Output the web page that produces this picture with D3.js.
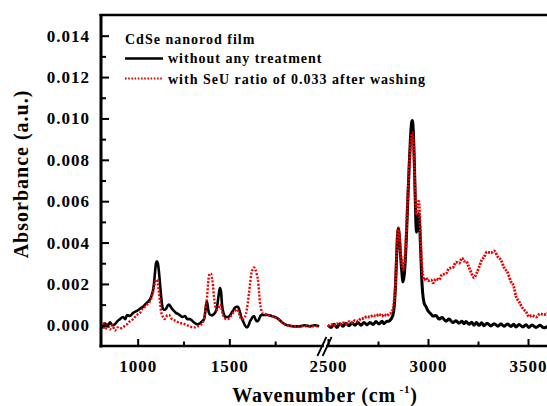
<!DOCTYPE html>
<html>
<head>
<meta charset="utf-8">
<script src="https://cdn.jsdelivr.net/npm/d3@7/dist/d3.min.js"></script>
<style>
  html, body { margin: 0; padding: 0; background: #fff; }
  svg { display: block; }
  text { font-family: "Liberation Serif", "Times New Roman", serif; font-weight: bold; fill: #000; }
</style>
</head>
<body>
<svg id="chart" width="547" height="406"></svg>
<script>
// FTIR spectra of a CdSe nanorod film, plotted on a broken wavenumber axis

// Low-wavenumber segment (800–2000 cm-1)
const waveLow = [800, 812, 822, 835, 849, 862, 876, 890, 904, 920, 932, 942, 958, 975, 985, 996,
  1013, 1029, 1040, 1051, 1067, 1078, 1084, 1090, 1095, 1100, 1105, 1110, 1116, 1122, 1127, 1133,
  1138, 1146, 1155, 1163, 1171, 1180, 1187, 1198, 1209, 1220, 1231, 1245, 1258, 1271, 1285, 1300,
  1313, 1326, 1340, 1352, 1362, 1368, 1373, 1378, 1384, 1389, 1395, 1400, 1405, 1411, 1416, 1422,
  1427, 1433, 1438, 1444, 1449, 1455, 1460, 1465, 1472, 1480, 1493, 1505, 1512, 1520, 1530, 1542,
  1547, 1556, 1565, 1575, 1585, 1596, 1605, 1613, 1620, 1627, 1635, 1642, 1649, 1656, 1662, 1667,
  1673, 1678, 1684, 1695, 1711, 1730, 1749, 1768, 1787, 1803, 1820, 1850, 1885, 1910, 1940, 1965, 1990];

const untreatedLow = [0.00005, -0.0001, 0.0001, -0.00005, 0.00015, 0.0, 0.00005, 0.0002, 0.0003, 0.0004, 0.0003, 0.0005, 0.00045, 0.0006, 0.00065, 0.0007,
  0.0008, 0.0009, 0.001, 0.0011, 0.00125, 0.0015, 0.0017, 0.0021, 0.0026, 0.003, 0.0031, 0.003, 0.0026, 0.002, 0.0015, 0.001,
  0.0008, 0.00075, 0.0008, 0.00095, 0.001, 0.0009, 0.0008, 0.0007, 0.0006, 0.00055, 0.00048, 0.0004, 0.00045, 0.0003, 0.0003, 0.0002,
  0.0001, 0.00005, 0.0001, 0.0002, 0.0003, 0.0006, 0.001, 0.00115, 0.0008, 0.0006, 0.0005, 0.0005, 0.00048, 0.0005, 0.00055, 0.0006,
  0.0007, 0.0009, 0.0012, 0.0016, 0.0018, 0.0016, 0.001, 0.0007, 0.0005, 0.0004, 0.0004, 0.0005, 0.0006, 0.0007, 0.00085, 0.0009,
  0.0009, 0.0007, 0.0004, 0.0002, 0.0, -0.0001, 0.0, 0.0002, 0.0003, 0.0004, 0.00045, 0.0003, 0.0002, 0.0002, 0.0003, 0.0004,
  0.0005, 0.0005, 0.0005, 0.0005, 0.0005, 0.00045, 0.0004, 0.0003, 0.00015, 0.00005, 0.0, -0.00005, -0.00005, 0.0, -0.00005, 0.0, -0.00005];

const washedLow = [-0.00005, 0.0001, -0.0002, 0.00005, -0.0002, 0.0, -0.00025, -0.0001, -0.00015, -0.0001, 0.0, 0.00005, 0.0002, 0.0003, 0.0004, 0.0005,
  0.0006, 0.00085, 0.0009, 0.001, 0.00115, 0.0014, 0.0016, 0.0019, 0.0021, 0.0022, 0.0022, 0.002, 0.0016, 0.0011, 0.0007, 0.0005,
  0.0004, 0.0003, 0.0004, 0.0005, 0.0005, 0.0004, 0.0003, 0.00025, 0.0002, 0.00015, 0.0001, 0.0001, 0.00005, 0.0, -0.00005, -0.0001,
  -0.0001, -0.00005, 0.0, 0.0001, 0.0003, 0.0006, 0.001, 0.0013, 0.002, 0.0024, 0.0025, 0.0025, 0.0023, 0.0019, 0.0014, 0.001,
  0.0008, 0.00075, 0.0008, 0.0009, 0.001, 0.0009, 0.0007, 0.0005, 0.0004, 0.0003, 0.0003, 0.0004, 0.0005, 0.0006, 0.0007, 0.00077,
  0.0007, 0.0005, 0.0003, 0.0003, 0.0004, 0.0008, 0.0014, 0.002, 0.0025, 0.0027, 0.0028, 0.0027, 0.0025, 0.0022, 0.0016, 0.0011,
  0.0008, 0.0006, 0.0006, 0.00055, 0.0005, 0.00045, 0.0004, 0.0003, 0.00015, 0.00005, 0.0, -0.00005, -0.00005, -0.00005, -0.00005, -0.00005, -0.00005];

// High-wavenumber segment (2500–3600 cm-1)
const waveHigh = [2500, 2515, 2530, 2545, 2560, 2575, 2590, 2605, 2620, 2635, 2650, 2665, 2680, 2695, 2710, 2725,
  2740, 2755, 2770, 2780, 2795, 2805, 2815, 2825, 2832, 2838, 2843, 2848, 2852, 2856, 2862, 2868,
  2875, 2882, 2890, 2897, 2905, 2912, 2918, 2922, 2927, 2932, 2937, 2942, 2948, 2953, 2958, 2963,
  2968, 2973, 2980, 2990, 3000, 3015, 3025, 3040, 3055, 3070, 3090, 3105, 3125, 3140, 3155, 3170,
  3180, 3190, 3205, 3218, 3230, 3242, 3255, 3268, 3280, 3295, 3315, 3330, 3350, 3365, 3380, 3398,
  3415, 3428, 3440, 3455, 3475, 3490, 3505, 3520, 3540, 3560, 3580, 3600];

const untreatedHigh = [0.0, -0.0001, 0.00005, -0.0001, 0.00008, -0.00005, 0.0001, -0.00002, 0.00012, 0.0, 0.00013, 0.0, 0.00014, 0.00002, 0.00014, 0.00004,
  0.00018, 0.00006, 0.0002, 0.00008, 0.0002, 0.0002, 0.0003, 0.0005, 0.001, 0.002, 0.0033, 0.0044, 0.0047, 0.0044, 0.0035, 0.0027,
  0.0021, 0.0025, 0.0038, 0.0055, 0.0075, 0.009, 0.0098, 0.0099, 0.0093, 0.0078, 0.0058, 0.0045, 0.0047, 0.0054, 0.0049, 0.0037,
  0.0024, 0.0016, 0.0011, 0.0009, 0.0007, 0.00055, 0.00045, 0.00048, 0.0003, 0.00038, 0.0002, 0.0003, 0.00013, 0.00022, 0.0001, 0.0002,
  0.00008, 0.00018, 0.00005, 0.00015, 0.0, 0.00014, 0.0, 0.00012, -0.00002, 0.0001, -0.00003, 0.00008, -0.00004, 0.00007, -0.00005, 0.00006,
  -0.00006, 0.00005, -0.00008, 0.00004, -0.00008, 0.00003, -0.0001, 0.00002, -0.0001, 0.0, -0.00012, -0.00004];

const washedHigh = [-0.00005, 0.00003, 0.0, 0.00008, 0.00003, 0.00012, 0.00008, 0.00018, 0.00012, 0.00024, 0.0002, 0.00032, 0.00034, 0.00042, 0.0004, 0.00048,
  0.00044, 0.00054, 0.00044, 0.00052, 0.00046, 0.00055, 0.0006, 0.0008, 0.0013, 0.0022, 0.0035, 0.0045, 0.0047, 0.0044, 0.0036, 0.0031,
  0.0027, 0.003, 0.0042, 0.0058, 0.0074, 0.0086, 0.0092, 0.0093, 0.0088, 0.0075, 0.0062, 0.0054, 0.0058, 0.006, 0.0055, 0.0042,
  0.0031, 0.0025, 0.0022, 0.0023, 0.00215, 0.0022, 0.00205, 0.00225, 0.0022, 0.00245, 0.0025, 0.00275, 0.0028, 0.00305, 0.003, 0.00325,
  0.0031, 0.0031, 0.0028, 0.0025, 0.0023, 0.0025, 0.0028, 0.00315, 0.0033, 0.00355, 0.0035, 0.0036, 0.0033, 0.00315, 0.0028, 0.00255,
  0.0021, 0.0019, 0.0014, 0.00115, 0.0008, 0.00065, 0.00042, 0.00048, 0.0004, 0.00055, 0.00052, 0.0006];

// Axis ticks
const yMajorTicks = [0.000, 0.002, 0.004, 0.006, 0.008, 0.010, 0.012, 0.014];
const yMinorTicks = [0.001, 0.003, 0.005, 0.007, 0.009, 0.011, 0.013];
const xLowMajor = [1000, 1500];
const xLowMinor = [1250, 1750];
const xHighMajor = [2500, 3000, 3500];
const xHighMinor = [2750, 3250];

// Legend text
const legendTitle = "CdSe nanorod film";
const seriesNames = ["without any treatment", "with SeU ratio of 0.033 after washing"];

const svg = d3.select("#chart");

const xLow = d3.scaleLinear().domain([800, 2000]).range([101, 321]);
const xHigh = d3.scaleLinear().domain([2500, 3600]).range([328, 548]);
const y = d3.scaleLinear().domain([-0.001, 0.015]).range([346, 15]);

const RED = "#ee0000";

svg.append("clipPath").attr("id", "plotClip")
  .append("rect").attr("x", 101).attr("y", 15).attr("width", 446).attr("height", 331);

const plot = svg.append("g").attr("clip-path", "url(#plotClip)");

function drawSeries(xs, wave, vals, color, width, dash) {
  const line = d3.line()
    .x((d, i) => xs(wave[i]))
    .y(d => y(d))
    .curve(d3.curveMonotoneX);
  const p = plot.append("path")
    .attr("d", line(vals))
    .attr("fill", "none")
    .attr("stroke", color)
    .attr("stroke-width", width)
    .attr("stroke-linejoin", "round");
  if (dash) p.attr("stroke-dasharray", dash);
}

drawSeries(xLow, waveLow, untreatedLow, "#000", 2.6, null);
drawSeries(xHigh, waveHigh, untreatedHigh, "#000", 3, null);
drawSeries(xLow, waveLow, washedLow, RED, 2.4, "2,1.6");
drawSeries(xHigh, waveHigh, washedHigh, RED, 2.8, "2,1.2");

// Axes
const yAxis = d3.axisLeft(y).tickValues(yMajorTicks).tickSize(-8).tickPadding(11)
  .tickFormat(d3.format(".3f"));
const yMinor = d3.axisLeft(y).tickValues(yMinorTicks).tickSize(-5).tickFormat("");

svg.append("g").attr("transform", "translate(101,0)").call(yAxis);
svg.append("g").attr("transform", "translate(101,0)").call(yMinor);

function bottomAxis(scale, major, minor) {
  svg.append("g").attr("transform", "translate(0,346)")
    .call(d3.axisBottom(scale).tickValues(major).tickSize(-7).tickPadding(14).tickFormat(d3.format("d")));
  svg.append("g").attr("transform", "translate(0,346)")
    .call(d3.axisBottom(scale).tickValues(minor).tickSize(-4.5).tickFormat(""));
}
bottomAxis(xLow, xLowMajor, xLowMinor);
bottomAxis(xHigh, xHighMajor, xHighMinor);

svg.selectAll(".domain").remove();
svg.selectAll(".tick line").attr("stroke", "#000").attr("stroke-width", 2);
svg.selectAll(".tick text")
  .style("font-family", "'Liberation Serif', serif")
  .style("font-weight", "bold")
  .style("font-size", "17px")
  .style("letter-spacing", "1px")
  .attr("fill", "#000");

// Frame lines: left, top, bottom (the bottom one interrupted by the axis break)
svg.append("line").attr("x1", 101).attr("x2", 101).attr("y1", 14).attr("y2", 347.5)
  .attr("stroke", "#000").attr("stroke-width", 3);
svg.append("line").attr("x1", 99.5).attr("x2", 547).attr("y1", 15).attr("y2", 15)
  .attr("stroke", "#000").attr("stroke-width", 2.6);
svg.append("line").attr("x1", 99.5).attr("x2", xLow(2000) + 3).attr("y1", 346).attr("y2", 346)
  .attr("stroke", "#000").attr("stroke-width", 2.6);
svg.append("line").attr("x1", xHigh(2500) - 2).attr("x2", 547).attr("y1", 346).attr("y2", 346)
  .attr("stroke", "#000").attr("stroke-width", 2.6);

// Axis break marks
const breakMid = (xLow(2000) + xHigh(2500)) / 2;
[-2.6, 2.6].forEach(off => {
  svg.append("line")
    .attr("x1", breakMid + off - 4.5).attr("y1", 356)
    .attr("x2", breakMid + off + 4.5).attr("y2", 337)
    .attr("stroke", "#000").attr("stroke-width", 1.8);
});

// Axis titles
svg.append("text")
  .attr("transform", "translate(28,174) rotate(-90)")
  .attr("text-anchor", "middle")
  .style("font-size", "20px")
  .style("letter-spacing", "1px")
  .text("Absorbance (a.u.)");

const xt = svg.append("text")
  .attr("x", 325).attr("y", 402)
  .attr("text-anchor", "middle")
  .style("font-size", "20px")
  .style("letter-spacing", "0.8px");
xt.append("tspan").text("Wavenumber (cm");
xt.append("tspan").attr("dy", -9).style("font-size", "11px").text(" -1");
xt.append("tspan").attr("dy", 9).text(")");

// Legend
const legend = svg.append("g");
legend.append("text").attr("x", 125).attr("y", 44)
  .style("font-size", "14px").style("letter-spacing", "1px").text(legendTitle);
legend.append("line").attr("x1", 125).attr("x2", 163).attr("y1", 58.5).attr("y2", 58.5)
  .attr("stroke", "#000").attr("stroke-width", 2.4);
legend.append("text").attr("x", 168).attr("y", 63)
  .style("font-size", "14px").style("letter-spacing", "1px").text(seriesNames[0]);
legend.append("line").attr("x1", 125).attr("x2", 163).attr("y1", 78.5).attr("y2", 78.5)
  .attr("stroke", "#d40000").attr("stroke-width", 2).attr("stroke-dasharray", "1.6,1.6");
legend.append("text").attr("x", 168).attr("y", 83.5)
  .style("font-size", "14px").style("letter-spacing", "1px").text(seriesNames[1]);
</script>
</body>
</html>
